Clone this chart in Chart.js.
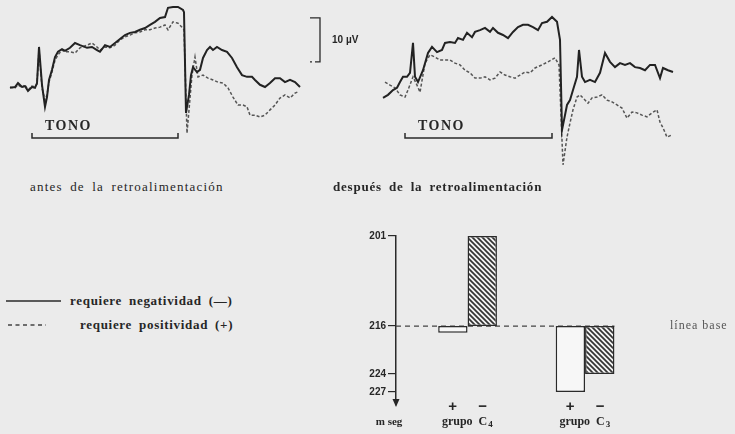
<!DOCTYPE html>
<html>
<head>
<meta charset="utf-8">
<script src="https://cdn.jsdelivr.net/npm/chart.js@4.4.0/dist/chart.umd.min.js"></script>
<style>
body{margin:0;background:#ebebeb;width:735px;height:434px;overflow:hidden;position:relative;font-family:"Liberation Serif",serif;color:#262626}
canvas{position:absolute}
.txt{position:absolute;white-space:nowrap;font-size:13px;line-height:14px;word-spacing:3px;letter-spacing:1px}
</style>
</head>
<body>
<canvas id="left" width="370" height="150" style="left:0;top:0"></canvas>
<canvas id="right" width="320" height="180" style="left:370px;top:0"></canvas>
<canvas id="bars" width="395" height="214" style="left:340px;top:220px"></canvas>

<div class="txt" style="left:30px;top:180px;letter-spacing:1.2px">antes de la retroalimentación</div>
<div class="txt" style="left:333px;top:180px;font-weight:bold;letter-spacing:.8px">después de la retroalimentación</div>

<svg style="position:absolute;left:0;top:290px" width="70" height="45">
  <line x1="6" y1="11" x2="61" y2="11" stroke="#2a2a2a" stroke-width="1.5"/>
  <line x1="8" y1="35" x2="46" y2="35" stroke="#444" stroke-width="1.5" stroke-dasharray="4 3.5"/>
</svg>
<div class="txt" style="left:70px;top:294px;font-weight:bold;letter-spacing:.7px">requiere negatividad (—)</div>
<div class="txt" style="left:80px;top:318px;font-weight:bold;letter-spacing:.7px">requiere positividad (+)</div>

<script>
// antes de la retroalimentacion (ms, µV; negativo hacia arriba)
var leftNegT = [-290,-240,-210,-170,-140,-110,-70,-40,-20,0,30,60,80,100,130,160,190,230,260,310,360,410,480,530,580,610,660,710,760,810,860,910,960,1010,1060,1110,1160,1210,1260,1290,1340,1390,1440,1450,1470,1500,1520,1540,1580,1610,1640,1680,1710,1740,1780,1830,1880,1930,1980,2030,2080,2130,2160,2210,2260,2310,2360,2410,2460,2510,2560,2610];
var leftNegUV = [-0.2,0,0.9,0,0.2,-0.9,0,-0.2,0.9,9.1,0.5,-4.5,-2.3,1.6,3.9,6.8,8.0,8.6,8.2,8.9,10.0,9.5,8.9,9.1,8.4,8.0,9.5,9.1,10.0,10.9,11.8,12.3,12.5,13.0,13.4,14.1,14.8,15.7,15.9,18.0,18.2,18.2,17.5,17.0,-5.9,-1.8,2.7,4.5,3.4,3.9,6.6,8.4,9.1,8.4,9.1,8.4,8.0,6.6,4.5,2.7,2.3,2.3,1.6,0.5,0,0.9,2.0,2.0,1.1,1.6,1.1,0];
var leftPosT = [-290,-240,-210,-170,-140,-110,-70,-40,-20,0,30,60,80,100,130,160,190,230,260,310,360,410,480,530,580,610,660,710,760,810,860,910,960,1010,1060,1110,1160,1210,1260,1290,1340,1390,1430,1450,1480,1500,1530,1560,1590,1640,1690,1740,1790,1840,1890,1940,1990,2040,2080,2110,2160,2210,2260,2310,2360,2410,2460,2510,2560,2590];
var leftPosUV = [0,-0.2,0.5,-0.2,0.5,-0.7,0.2,0,0.7,8.4,-0.2,-3.0,-1.8,1.1,3.4,6.1,7.3,8.4,8.0,8.0,7.7,8.9,9.5,10.0,9.1,8.4,9.1,8.9,9.5,10.7,11.4,11.8,12.3,12.5,13.0,13.0,13.4,13.6,14.1,13.0,14.8,14.5,13.6,13.0,-10.5,-5.2,2.7,6.8,2.3,2.7,2.0,1.6,1.1,0.9,-0.2,-2.3,-4.1,-4.1,-4.5,-6.4,-6.4,-6.8,-6.4,-5.2,-4.1,-2.5,-1.8,-2.5,-1.4,-1.1];

// despues de la retroalimentacion
var rightNegT = [-300,-250,-200,-160,-130,-100,-60,-30,0,20,50,100,150,190,240,290,320,370,420,450,500,540,590,620,670,720,770,800,850,900,950,1000,1050,1100,1150,1200,1250,1290,1340,1390,1440,1470,1490,1520,1540,1570,1600,1640,1660,1690,1720,1770,1820,1870,1920,1970,2020,2070,2120,2170,2220,2270,2320,2370,2420,2470,2500,2550,2600];
var rightNegUV = [-1.8,-1.1,0,0.5,1.8,3.0,3.0,3.9,10.7,3.0,1.8,4.5,8.4,9.8,8.6,9.1,10.7,10.9,10.7,11.8,11.4,13.0,12.0,13.2,13.6,14.1,13.2,14.1,13.0,12.5,11.8,13.2,14.3,14.8,14.8,14.3,13.6,15.2,15.5,16.6,15.5,11.4,-9.1,-5.7,-3.4,-2.3,0,3.0,9.1,3.0,1.8,2.3,1.8,3.9,8.4,6.4,5.2,6.1,5.7,6.1,5.2,5.0,4.5,5.7,5.7,2.7,5.0,4.5,4.1];
var rightPosT = [-280,-230,-180,-130,-80,-50,0,40,70,120,170,220,270,320,370,420,470,520,570,620,670,720,770,820,870,920,970,1020,1070,1120,1170,1220,1290,1350,1420,1460,1500,1540,1570,1600,1640,1670,1700,1750,1790,1840,1890,1940,1990,2040,2090,2140,2190,2240,2290,2340,2390,2440,2470,2500,2540,2590];
var rightPosUV = [1.8,1.1,0.5,-1.1,-1.6,0,3.0,1.1,-0.5,6.1,8.0,7.5,6.8,6.8,6.8,6.1,5.7,4.5,3.9,2.7,2.7,3.0,2.3,2.7,4.1,3.4,3.0,2.7,3.4,4.1,3.9,5.0,5.7,6.4,7.3,5.7,-17.0,-10.7,-7.5,-4.5,-1.6,-1.1,-1.8,-3.0,-1.8,-1.6,-1.1,-2.3,-2.7,-3.4,-4.1,-6.4,-5.0,-5.2,-5.7,-6.1,-5.2,-4.5,-7.3,-8.6,-10.7,-10.2];

var leftTone = [-70, 1390];
var rightTone = [-80, 1390];

// latencias (m seg) respecto a la linea base
var groups = ['C4', 'C3'];
var baseLine = 216;
var plusBars = [217.1, 227];
var minusBars = [201, 224];
var yTicks = [201, 216, 224, 227];

function pts(t, v) {
	return t.map(function(x, i) { return {x: x, y: v[i]}; });
}

var toneBracket = {
	id: 'tone',
	afterDatasetsDraw: function(chart, args, o) {
		var ctx = chart.ctx, xs = chart.scales.x, ys = chart.scales.y;
		var x0 = xs.getPixelForValue(o.start), x1 = xs.getPixelForValue(o.end), yy = ys.getPixelForValue(o.level);
		ctx.save();
		ctx.strokeStyle = '#2a2a2a';
		ctx.lineWidth = 1.5;
		ctx.beginPath();
		ctx.moveTo(x0, yy - 5); ctx.lineTo(x0, yy); ctx.lineTo(x1, yy); ctx.lineTo(x1, yy - 5);
		ctx.stroke();
		ctx.fillStyle = '#262626';
		ctx.font = 'bold 14px "Liberation Serif"';
		ctx.letterSpacing = '1.5px';
		ctx.textBaseline = 'bottom';
		ctx.fillText('TONO', x0 + 13, yy - 5);
		if (o.cal) {
			var cx = xs.getPixelForValue(o.cal[0]), c0 = ys.getPixelForValue(o.cal[1]), c1 = ys.getPixelForValue(o.cal[1] - 10);
			ctx.lineWidth = 1.3;
			ctx.beginPath();
			ctx.moveTo(cx - 10, c0); ctx.lineTo(cx, c0); ctx.lineTo(cx, c1); ctx.lineTo(cx - 5, c1);
			ctx.moveTo(cx - 10, c1); ctx.lineTo(cx - 8, c1);
			ctx.stroke();
			ctx.font = 'bold 10px "Liberation Sans"';
			ctx.letterSpacing = '0px';
			ctx.textBaseline = 'middle';
			ctx.fillText('10 µV', cx + 12, (c0 + c1) / 2);
		}
		ctx.restore();
	}
};

function traceChart(id, negT, negUV, posT, posUV, xr, yr, tone) {
	return new Chart(document.getElementById(id), {
		type: 'line',
		data: {
			datasets: [
				{data: pts(negT, negUV), borderColor: '#222', borderWidth: 2},
				{data: pts(posT, posUV), borderColor: '#555', borderWidth: 1.5, borderDash: [3, 2]}
			]
		},
		options: {
			responsive: false,
			animation: false,
			parsing: false,
			elements: {point: {radius: 0}, line: {tension: 0}},
			layout: {padding: 0},
			scales: {
				x: {type: 'linear', display: false, min: xr[0], max: xr[1]},
				y: {type: 'linear', display: false, min: yr[0], max: yr[1]}
			},
			plugins: {legend: {display: false}, tooltip: {enabled: false}, tone: tone}
		},
		plugins: [toneBracket]
	});
}

traceChart('left', leftNegT, leftNegUV, leftPosT, leftPosUV, [-390, 3310], [-14.32, 19.77],
	{start: leftTone[0], end: leftTone[1], level: -11.6, cal: [2810, 15.7]});
traceChart('right', rightNegT, rightNegUV, rightPosT, rightPosUV, [-430, 2770], [-20.45, 20.45],
	{start: rightTone[0], end: rightTone[1], level: -10.9});

var barCtx = document.getElementById('bars').getContext('2d');
var pc = document.createElement('canvas');
pc.width = 5; pc.height = 5;
var g = pc.getContext('2d');
g.fillStyle = '#f3f3f3'; g.fillRect(0, 0, 5, 5);
g.strokeStyle = '#333'; g.lineWidth = 1.7;
g.beginPath();
g.moveTo(-1, -1); g.lineTo(6, 6);
g.moveTo(-1, 4); g.lineTo(1, 6);
g.moveTo(4, -1); g.lineTo(6, 1);
g.stroke();
var hatch = barCtx.createPattern(pc, 'repeat');

var barDeco = {
	id: 'deco',
	beforeDatasetsDraw: function(chart) {
		var ctx = chart.ctx, xs = chart.scales.x, ys = chart.scales.y, a = chart.chartArea;
		var yb = ys.getPixelForValue(baseLine);
		ctx.save();
		ctx.strokeStyle = '#444'; ctx.lineWidth = 1.3; ctx.setLineDash([5, 4]);
		ctx.beginPath(); ctx.moveTo(a.left, yb); ctx.lineTo(xs.getPixelForValue(1.25), yb); ctx.stroke();
		ctx.restore();
	},
	afterDraw: function(chart) {
		var ctx = chart.ctx, xs = chart.scales.x, ys = chart.scales.y, a = chart.chartArea;
		ctx.save();
		ctx.fillStyle = '#262626';
		ctx.beginPath();
		ctx.moveTo(a.left - 3.5, a.bottom - 6); ctx.lineTo(a.left + 3.5, a.bottom - 6); ctx.lineTo(a.left, a.bottom + 2);
		ctx.closePath(); ctx.fill();
		ctx.textAlign = 'center'; ctx.textBaseline = 'middle';
		ctx.font = 'bold 11px "Liberation Serif"';
		ctx.fillText('m seg', a.left - 7, 202);
		groups.forEach(function(gname, i) {
			var cx = xs.getPixelForValue(i);
			ctx.font = 'bold 15px "Liberation Sans"';
			ctx.fillText('+', cx - 15, 187);
			ctx.fillText('−', cx + 15, 187);
			ctx.font = 'bold 12px "Liberation Serif"';
			ctx.textAlign = 'left';
			var w = ctx.measureText('grupo  C').width;
			ctx.fillText('grupo  C', cx - (w + 6) / 2, 202);
			ctx.font = 'bold 9px "Liberation Serif"';
			ctx.fillText(gname.slice(1), cx - (w + 6) / 2 + w + 1, 205);
			ctx.textAlign = 'center';
		});
		ctx.font = '12px "Liberation Serif"';
		ctx.fillStyle = '#555';
		ctx.textAlign = 'left';
		ctx.letterSpacing = '1px';
		ctx.fillText('línea base', 330, ys.getPixelForValue(baseLine));
		ctx.restore();
	}
};

new Chart(barCtx, {
	type: 'bar',
	data: {
		datasets: [
			{
				label: '+',
				data: groups.map(function(n, i) { return {x: i, y: [baseLine, plusBars[i]]}; }),
				backgroundColor: '#f7f7f7', borderColor: '#2a2a2a', borderWidth: 1.5, borderSkipped: false
			},
			{
				label: '−',
				data: groups.map(function(n, i) { return {x: i, y: [minusBars[i], baseLine]}; }),
				backgroundColor: hatch, borderColor: '#2a2a2a', borderWidth: 1.5, borderSkipped: false
			}
		]
	},
	options: {
		responsive: false,
		animation: false,
		categoryPercentage: 0.5,
		barPercentage: 1,
		layout: {padding: {top: 16, bottom: 29, left: 0, right: 0}},
		scales: {
			x: {
				type: 'linear', display: false, offset: false, min: -0.609, max: 2.276,
				afterBuildTicks: function(s) { s.ticks = groups.map(function(n, i) { return {value: i}; }); }
			},
			y: {
				reverse: true, min: 201, max: 229.15,
				afterBuildTicks: function(s) { s.ticks = yTicks.map(function(v) { return {value: v}; }); },
				afterFit: function(s) { s.width = 56; },
				ticks: {color: '#262626', font: {family: 'Liberation Sans', weight: 'bold', size: 10}, padding: 2},
				grid: {drawOnChartArea: false, tickLength: 8, color: '#2a2a2a', lineWidth: 1.2},
				border: {color: '#2a2a2a', width: 1.5}
			}
		},
		plugins: {legend: {display: false}, tooltip: {enabled: false}}
	},
	plugins: [barDeco]
});
</script>
</body>
</html>
